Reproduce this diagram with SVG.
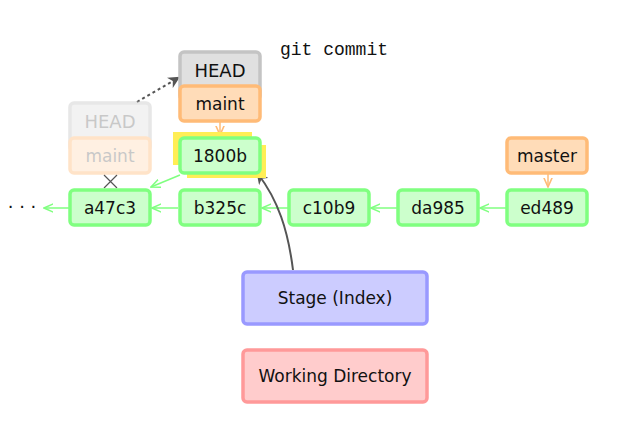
<svg xmlns="http://www.w3.org/2000/svg" width="639" height="439" viewBox="0 0 639 439">
<defs>
<style>
text{font-family:"DejaVu Sans","Liberation Sans",sans-serif;font-size:17px;fill:#111;text-anchor:middle;dominant-baseline:central}
.c{fill:#ccffcc;stroke:#80ff80;stroke-width:3.5}
.b{fill:#ffdcb8;stroke:#ffbb77;stroke-width:3.5}
.h{fill:#e0e0e0;stroke:#c4c4c4;stroke-width:3.5}
.g{stroke:#80ff80;stroke-width:1.5;fill:none}
.o{stroke:#ffbb77;stroke-width:1.5;fill:none}
</style>
<marker id="ag" viewBox="0 0 10 10" refX="9" refY="5" markerWidth="7" markerHeight="7" orient="auto"><path d="M0,1 L9,5 L0,9" fill="none" stroke="#80ff80" stroke-width="1.5"/></marker>
<marker id="ao" viewBox="0 0 10 10" refX="9" refY="5" markerWidth="7" markerHeight="7" orient="auto"><path d="M0,1 L9,5 L0,9" fill="none" stroke="#ffbb77" stroke-width="1.5"/></marker>
<marker id="ak" viewBox="0 0 10 10" refX="8" refY="5" markerWidth="6" markerHeight="6" orient="auto"><path d="M0,0 L10,5 L0,10 L3,5 z" fill="#555"/></marker>
</defs>
<rect width="639" height="439" fill="#fff"/>
<text x="280" y="50" style="font-family:'Liberation Mono',monospace;font-size:18px;text-anchor:start">git commit</text>
<text x="22" y="206" style="font-size:18px">· · ·</text>
<g id="connectors">
<line class="g" x1="70" y1="208" x2="44" y2="208" marker-end="url(#ag)"/>
<line class="g" x1="178" y1="208" x2="152" y2="208" marker-end="url(#ag)"/>
<line class="g" x1="288" y1="208" x2="262" y2="208" marker-end="url(#ag)"/>
<line class="g" x1="397" y1="208" x2="371" y2="208" marker-end="url(#ag)"/>
<line class="g" x1="507" y1="208" x2="480" y2="208" marker-end="url(#ag)"/>
<line class="g" x1="180" y1="175" x2="151" y2="187" marker-end="url(#ag)"/>
<line class="o" x1="220" y1="122" x2="220" y2="135" marker-end="url(#ao)"/>
<line class="o" x1="548" y1="173" x2="548" y2="187" marker-end="url(#ao)"/>
<path d="M137,102 L178,78" stroke="#555" stroke-width="2" stroke-dasharray="3,3" fill="none" marker-end="url(#ak)"/>
<path d="M293,270 C288,230 278,200 258,174" stroke="#555" stroke-width="2" fill="none" marker-end="url(#ak)"/>
<path d="M104,175 L117,188 M117,175 L104,188" stroke="#555" stroke-width="1.2"/>
</g>
<g id="old-head" opacity="0.4">
<rect class="h" x="70" y="103" width="80" height="48" rx="4"/>
<text x="110" y="121" style="fill:#777;font-size:18px">HEAD</text>
<rect class="b" x="70" y="138" width="80" height="35" rx="4"/>
<text x="110" y="156" style="fill:#777">maint</text>
</g>
<g id="head">
<rect class="h" x="180" y="52" width="80" height="48" rx="4"/>
<text x="220" y="70" style="font-size:18px">HEAD</text>
<rect class="b" x="180" y="86" width="80" height="35" rx="4"/>
<text x="220" y="104">maint</text>
</g>
<g id="master">
<rect class="b" x="507" y="138" width="80" height="35" rx="4"/>
<text x="547" y="156">master</text>
</g>
<g id="c1800b">
<rect x="173" y="132" width="79" height="33" fill="#ffee55"/>
<rect x="187" y="145" width="79" height="33" fill="#ffee55"/>
<rect class="c" x="180" y="138" width="80" height="35" rx="4"/>
<text x="220" y="156">1800b</text>
</g>
<g id="a47c3"><rect class="c" x="70" y="190" width="80" height="35" rx="4"/><text x="110" y="208">a47c3</text></g>
<g id="b325c"><rect class="c" x="180" y="190" width="80" height="35" rx="4"/><text x="220" y="208">b325c</text></g>
<g id="c10b9"><rect class="c" x="289" y="190" width="80" height="35" rx="4"/><text x="329" y="208">c10b9</text></g>
<g id="da985"><rect class="c" x="398" y="190" width="80" height="35" rx="4"/><text x="438" y="208">da985</text></g>
<g id="ed489"><rect class="c" x="507" y="190" width="80" height="35" rx="4"/><text x="547" y="208">ed489</text></g>
<g id="stage"><rect x="243" y="272" width="184" height="52" rx="4" fill="#ccccff" stroke="#9999ff" stroke-width="3.5"/><text x="335" y="298">Stage (Index)</text></g>
<g id="workdir"><rect x="243" y="350" width="184" height="52" rx="4" fill="#ffcccc" stroke="#ff9999" stroke-width="3.5"/><text x="335" y="376">Working Directory</text></g>
</svg>
